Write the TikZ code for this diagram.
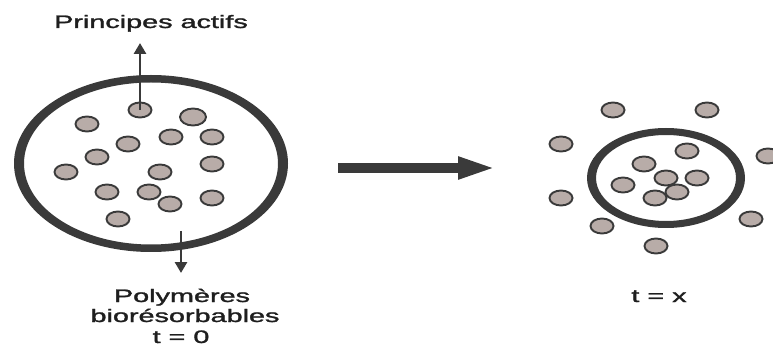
\documentclass[tikz,border=0pt]{standalone}
\usepackage{fontspec}
\setmainfont{Liberation Sans}
\newfontfamily\lblfont[BoldFont={Liberation Sans},BoldFeatures={FakeBold=1.3}]{Liberation Sans}
\usetikzlibrary{shapes.geometric,arrows.meta}
\definecolor{ringc}{RGB}{58,58,58}
\definecolor{partfill}{RGB}{184,172,168}
\definecolor{txtc}{RGB}{30,30,30}
\tikzset{
  particle/.style={ellipse, draw=ringc, fill=partfill, line width=1.9pt, minimum width=23pt, minimum height=15pt, inner sep=0pt},
  bigparticle/.style={particle, minimum width=26pt, minimum height=17pt},
  label/.style={font=\lblfont\bfseries\fontsize{18}{20}\selectfont, text=txtc, xscale=1.6, inner sep=0pt, anchor=base},
  thinarrow/.style={draw=ringc, line width=2.8pt, -{Triangle[width=12pt,length=11pt]}},
  bigarrow/.style={draw=ringc, line width=10pt, -{Triangle[width=20pt,length=39pt]}},
}
\begin{document}
\begin{tikzpicture}[x=1pt,y=-1pt]
\useasboundingbox (0,0) rectangle (773,347);
% left capsule ring
\fill[ringc, even odd rule] (151,163.5) ellipse [x radius=137, y radius=88.5]
                            (151,163.5) ellipse [x radius=127, y radius=81];
\coordinate (cell0) at (151,163.5);
% left particles
\node[particle] (p1) at (140,110) {};
\node[bigparticle] (p2) at (193,117) {};
\node[particle] (p3) at (87,124) {};
\node[particle] (p4) at (171,137) {};
\node[particle] (p5) at (128,144) {};
\node[particle] (p6) at (212,137) {};
\node[particle] (p7) at (97,157) {};
\node[particle] (p8) at (66,172) {};
\node[particle] (p9) at (160,172) {};
\node[particle] (p10) at (212,164) {};
\node[particle] (p11) at (107,192) {};
\node[particle] (p12) at (149,192) {};
\node[particle] (p13) at (170,204) {};
\node[particle] (p14) at (212,198) {};
\node[particle] (p15) at (118,219) {};
% arrows of left capsule
\coordinate (uptip) at (140,43);
\draw[thinarrow] (p1.center) -- (uptip);
\coordinate (downstart) at (181,231);
\coordinate (downtip) at (181,273);
\draw[thinarrow] (downstart) -- (downtip);
% labels
\node[label] (lab-pa) at (151,28) {Principes actifs};
\node[label] (lab-poly1) at (182,302) {Polymères};
\node[label] (lab-poly2) at (185,322) {biorésorbables};
\node[label] (lab-t0) at (181,343) {t = 0};
% main arrow
\coordinate (mstart) at (338,168);
\coordinate (mend) at (497,168);
\draw[bigarrow] (mstart) -- (mend);
% right capsule ring
\fill[ringc, even odd rule] (666,178) ellipse [x radius=79, y radius=50]
                            (666,178) ellipse [x radius=70, y radius=43];
\coordinate (cell1) at (666,178);
% outside particles
\node[particle] (q1) at (613,110) {};
\node[particle] (q2) at (707,110) {};
\node[particle] (q3) at (561,144) {};
\node[particle] (q4) at (768,156) {};
\node[particle] (q5) at (561,198) {};
\node[particle] (q6) at (602,226) {};
\node[particle] (q7) at (751,219) {};
\node[particle] (q8) at (656,246) {};
% inside particles
\node[particle] (r1) at (687,151) {};
\node[particle] (r2) at (644,164) {};
\node[particle] (r3) at (623,185) {};
\node[particle] (r4) at (666,178) {};
\node[particle] (r5) at (697,178) {};
\node[particle] (r6) at (677,192) {};
\node[particle] (r7) at (655,198) {};
\node[label] (lab-tx) at (659,302) {t = x};
\end{tikzpicture}
\end{document}
